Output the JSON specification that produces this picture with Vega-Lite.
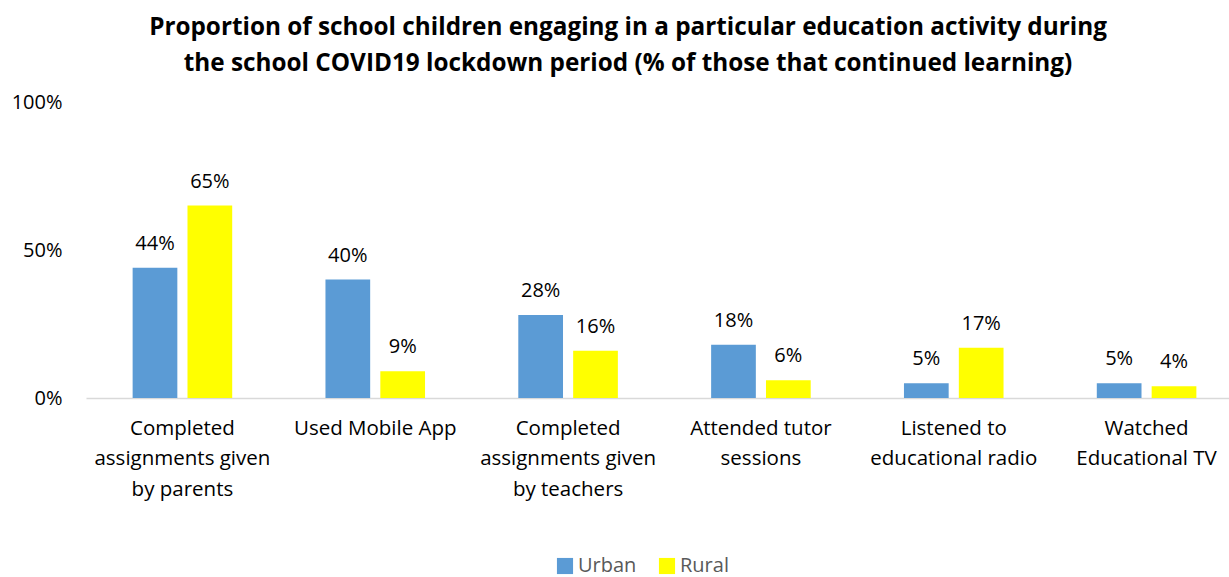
{
  "$schema": "https://vega.github.io/schema/vega-lite/v6.json",
  "autosize": "none",
  "width": 1144,
  "height": 296,
  "padding": {"left": 85, "top": 102, "right": 0, "bottom": 179},
  "background": "white",
  "config": {"font": "Open Sans", "view": {"stroke": null}},
  "title": {
    "text": ["Proportion of school children engaging in a particular education activity during", "the school COVID19 lockdown period (% of those that continued learning)"],
    "fontSize": 24.3,
    "fontWeight": "bold",
    "color": "#000000",
    "lineHeight": 36,
    "anchor": "middle",
    "dx": -29,
    "offset": 16
  },
  "data": {
    "values": [
      {"activity": "Completed assignments given by parents", "area": "Urban", "value": 0.44},
      {"activity": "Completed assignments given by parents", "area": "Rural", "value": 0.65},
      {"activity": "Used Mobile App", "area": "Urban", "value": 0.40},
      {"activity": "Used Mobile App", "area": "Rural", "value": 0.09},
      {"activity": "Completed assignments given by teachers", "area": "Urban", "value": 0.28},
      {"activity": "Completed assignments given by teachers", "area": "Rural", "value": 0.16},
      {"activity": "Attended tutor sessions", "area": "Urban", "value": 0.18},
      {"activity": "Attended tutor sessions", "area": "Rural", "value": 0.06},
      {"activity": "Listened to educational radio", "area": "Urban", "value": 0.05},
      {"activity": "Listened to educational radio", "area": "Rural", "value": 0.17},
      {"activity": "Watched Educational TV", "area": "Urban", "value": 0.05},
      {"activity": "Watched Educational TV", "area": "Rural", "value": 0.04}
    ]
  },
  "encoding": {
    "x": {
      "field": "activity",
      "type": "nominal",
      "sort": null,
      "scale": {"paddingInner": 0, "paddingOuter": 0, "range": [1, 1158]},
      "axis": {
        "title": null,
        "labelAngle": 0,
        "labelFontSize": 20.5,
        "labelColor": "#000000",
        "labelLineHeight": 30.5,
        "labelPadding": 20,
        "labelBaseline": "top",
        "ticks": false,
        "domainColor": "#d9d9d9",
        "domainWidth": 1.5,
        "labelExpr": "datum.value == 'Completed assignments given by parents' ? ['Completed', 'assignments given', 'by parents'] : datum.value == 'Completed assignments given by teachers' ? ['Completed', 'assignments given', 'by teachers'] : datum.value == 'Attended tutor sessions' ? ['Attended tutor', 'sessions'] : datum.value == 'Listened to educational radio' ? ['Listened to', 'educational radio'] : datum.value == 'Watched Educational TV' ? ['Watched', 'Educational TV'] : datum.value"
      }
    },
    "xOffset": {
      "field": "area",
      "type": "nominal",
      "sort": ["Urban", "Rural"],
      "scale": {"paddingInner": 0.185, "paddingOuter": 0.85}
    },
    "y": {
      "field": "value",
      "type": "quantitative",
      "scale": {"domain": [0, 1]},
      "axis": {
        "title": null,
        "values": [0, 0.5, 1],
        "format": ".0%",
        "grid": false,
        "domain": false,
        "ticks": false,
        "labelFontSize": 20,
        "labelColor": "#000000",
        "labelPadding": 23
      }
    },
    "color": {
      "field": "area",
      "type": "nominal",
      "sort": ["Urban", "Rural"],
      "scale": {"domain": ["Urban", "Rural"], "range": ["#5B9BD5", "#FFFF00"]},
      "legend": {
        "title": null,
        "orient": "none",
        "direction": "horizontal",
        "legendX": 470,
        "legendY": 454,
        "symbolType": "square",
        "symbolSize": 260,
        "symbolStrokeWidth": 0,
        "labelFontSize": 20,
        "labelColor": "#595959",
        "columnPadding": 20,
        "labelOffset": 3
      }
    }
  },
  "layer": [
    {"mark": {"type": "bar"}},
    {
      "mark": {"type": "text", "baseline": "bottom", "dy": -14, "fontSize": 20},
      "encoding": {"text": {"field": "value", "format": ".0%"}, "color": {"value": "#000000"}}
    }
  ]
}
